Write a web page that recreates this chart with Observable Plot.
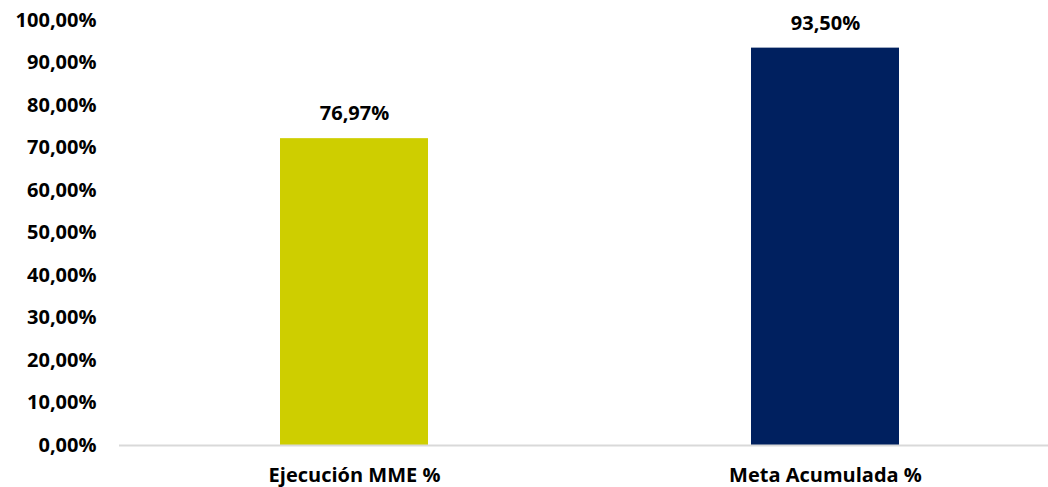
<!DOCTYPE html>
<html>
<head>
<meta charset="utf-8">
<script src="https://cdn.jsdelivr.net/npm/d3@7"></script>
<script src="https://cdn.jsdelivr.net/npm/@observablehq/plot@0.6"></script>
<style>
  html, body { margin: 0; padding: 0; background: #fff; }
</style>
</head>
<body>
<div id="chart"></div>
<script>
const categories = ["Ejecución MME %", "Meta Acumulada %"];
const values = [72.2, 93.5];            // bar heights as drawn
const valueLabels = ["76,97%", "93,50%"]; // labels as printed
const colors = ["#CECE00", "#00205F"];
const yTicks = [0, 10, 20, 30, 40, 50, 60, 70, 80, 90, 100];

const data = categories.map((c, i) => ({cat: c, value: values[i], label: valueLabels[i], color: colors[i]}));
const fmt = v => v.toFixed(2).replace(".", ",") + "%";
const font = "'Open Sans', sans-serif";

const chart = Plot.plot({
  width: 1048,
  height: 487,
  marginLeft: 119,
  marginRight: 0,
  marginTop: 20,
  marginBottom: 42,
  style: {fontFamily: font, fontWeight: "bold", color: "#000", background: "#fff"},
  x: {domain: categories, range: [118.5, 1060.5], paddingInner: 0.686, paddingOuter: 0.343, label: null},
  y: {domain: [0, 100], label: null},
  marks: [
    Plot.axisY({ticks: yTicks, tickFormat: fmt, tickSize: 0, tickPadding: 23, fontSize: 20, fontWeight: "bold", fill: "#000"}),
    Plot.axisX({tickSize: 0, tickPadding: 22, fontSize: 20, fontWeight: "bold", fill: "#000"}),
    Plot.barY(data, {x: "cat", y: "value", fill: "color"}),
    Plot.ruleY([0], {stroke: "#d9d9d9", strokeWidth: 2}),
    Plot.text(data, {x: "cat", y: "value", text: "label", dy: -25, fontSize: 20, fontWeight: "bold", fill: "#000"})
  ]
});
document.getElementById("chart").appendChild(chart);
</script>
</body>
</html>
